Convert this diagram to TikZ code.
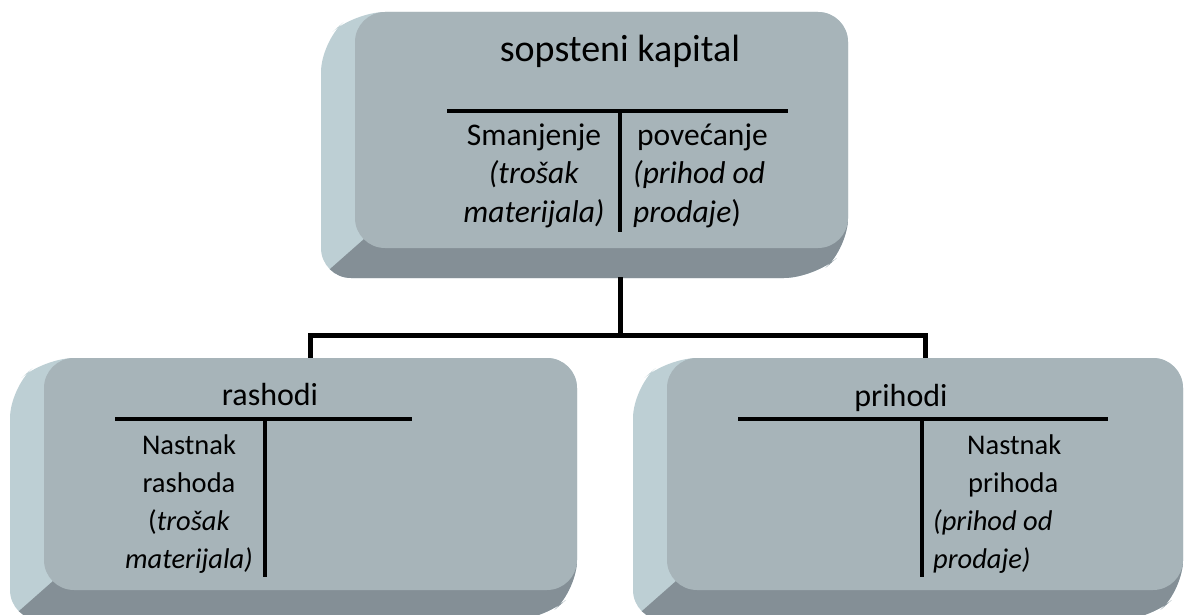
\documentclass[tikz,border=0pt]{standalone}
\usepackage{fontspec}
\setmainfont{Carlito}
\definecolor{faceblue}{HTML}{A7B4B9}
\definecolor{sidelight}{HTML}{BDCFD4}
\definecolor{sidedark}{HTML}{848F96}
\tikzset{
    face/.style={fill=faceblue, rounded corners=30pt, inner sep=0pt},
    tline/.style={line width=4pt},
    link/.style={line width=5pt, line join=miter},
    bigtitle/.style={font=\fontsize{38}{44}\selectfont, anchor=base, inner sep=0pt},
    subtitle/.style={font=\fontsize{32}{38}\selectfont, anchor=base, inner sep=0pt},
    topcell/.style={font=\fontsize{31.5}{38.5}\selectfont, anchor=base, inner sep=0pt},
    cell/.style={font=\fontsize{28.5}{38}\selectfont, anchor=base, inner sep=0pt},
}
\NewDocumentCommand{\drawbevelbox}{m m m m m}{
    \def\boxname{#1}
    \def\xA{#2}
    \def\yA{#3}
    \def\xB{#4}
    \def\yB{#5}
    \def\offX{-34}
    \def\offY{30}

    \begin{scope}
        \clip[rounded corners=30pt] (\xA,\yA) -- (\xB,\yA) -- (\xB,\yB) -- (\xB+\offX,\yB+\offY)
            -- (\xA+\offX,\yB+\offY) -- (\xA+\offX,\yA+\offY) -- cycle;
        \fill[sidelight] (\xA+\offX-10,\yA-10) rectangle (\xB+10,\yB+\offY+10);
        \fill[sidedark] (\xA+30,\yB-30) -- (\xA+9,\yB-9) -- (\xA+9+3*\offX,\yB-9+3*\offY)
            -- (\xB+100,\yB+200) -- (\xB+100,\yB-30) -- cycle;
    \end{scope}

    \node[face, minimum width={\xB-\xA}, minimum height={\yB-\yA}] (\boxname) at ({(\xA+\xB)/2},{(\yA+\yB)/2}) {};
}

\begin{document}
\begin{tikzpicture}[x=1pt, y=-1pt]
        \useasboundingbox (0,0) rectangle (1185,615);

        % boxes
        \drawbevelbox{kapital}{355}{12}{848}{248}
        \drawbevelbox{rashodi}{44}{358}{577}{590}
        \drawbevelbox{prihodi}{667}{358}{1183}{590}

        % connectors
        \coordinate (kapital-out) at (620,277);
        \coordinate (fork) at (620,335);
        \draw[link] (kapital-out) -- (fork);
        \draw[link] (fork) -| (rashodi.north);
        \draw[link] (fork) -| (prihodi.north);

        % sopsteni kapital (baseline of last line)
        \node[bigtitle] (kapital-title) at (620,62) {sopsteni kapital};
        \draw[tline] (447,111) -- (788,111);
        \draw[tline] (620,111) -- (620,232);
        \node[topcell, align=center] (kapital-left) at (534,222) {Smanjenje\\\textit{(trošak}\\\textit{materijala)}};
        \node[topcell, align=left, anchor=base west] (kapital-right) at (633,222) {\hspace*{4pt}povećanje\\\textit{(prihod od}\\\textit{prodaje})};

        % rashodi
        \node[subtitle] (rashodi-title) at (270,405) {rashodi};
        \draw[tline] (115,419) -- (412,419);
        \draw[tline] (265,419) -- (265,577);
        \node[cell, align=center] (rashodi-left) at (189,568) {Nastnak\\rashoda\\(\textit{trošak}\\\textit{materijala)}};

        % prihodi
        \node[subtitle] (prihodi-title) at (901,406) {prihodi};
        \draw[tline] (738,419) -- (1108,419);
        \draw[tline] (922,419) -- (922,577);
        \node[cell, align=left, anchor=base west] (prihodi-right) at (933,568) {\hspace*{34pt}Nastnak\\\hspace*{35pt}prihoda\\\textit{(prihod od}\\\textit{prodaje)}};
    \end{tikzpicture}
\end{document}
